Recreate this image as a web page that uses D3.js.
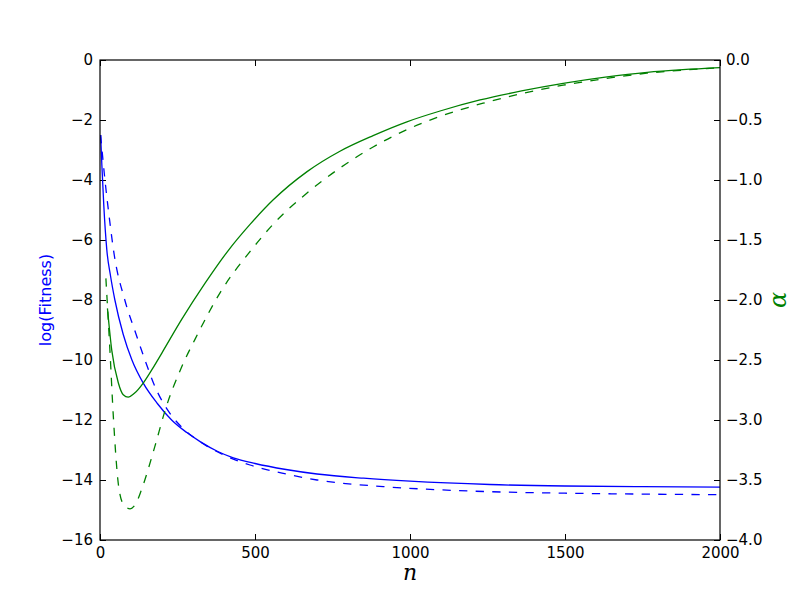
<!DOCTYPE html>
<html>
<head>
<meta charset="utf-8">
<script src="https://cdn.jsdelivr.net/npm/d3@7"></script>
<style>
  body { margin: 0; background: #fff; }
  svg { display: block; }
</style>
</head>
<body>
<div id="chart"></div>
<script>
var margin = { top: 60, right: 80, bottom: 60, left: 100 };
var svgWidth = 800;
var svgHeight = 600;
var width = svgWidth - margin.left - margin.right;
var height = svgHeight - margin.top - margin.bottom;

// log(Fitness), solid and dashed runs (left axis)
var fitSolidN = [2, 6, 12, 22, 34, 48, 75, 103, 140, 185, 231, 280, 323, 380, 430, 500, 600, 700, 850, 1000, 1258, 1500, 1750, 2000];
var fitSolidV = [-2.5, -3.5, -4.8, -6.33, -7.2, -8.0, -9.15, -10.0, -10.78, -11.45, -12.0, -12.42, -12.72, -13.05, -13.26, -13.45, -13.65, -13.8, -13.94, -14.04, -14.15, -14.2, -14.22, -14.24];
var fitDashN = [2, 16, 29, 46, 80, 115, 145, 180, 219, 260, 300, 345, 400, 484, 600, 700, 914, 1100, 1258, 1500, 1750, 2000];
var fitDashV = [-2.5, -4.0, -5.17, -6.5, -8.0, -9.1, -10.0, -10.95, -11.68, -12.2, -12.56, -12.87, -13.17, -13.5, -13.8, -14.0, -14.22, -14.33, -14.39, -14.44, -14.47, -14.49];

// alpha, solid and dashed runs (right axis)
var alphaSolidN = [24, 38, 59, 75, 91, 110, 140, 170, 200, 264, 339, 413, 484, 558, 668, 774, 881, 990, 1097, 1226, 1360, 1494, 1630, 1765, 1880, 2000];
var alphaSolidV = [-2.07, -2.42, -2.69, -2.79, -2.81, -2.78, -2.69, -2.57, -2.44, -2.16, -1.86, -1.59, -1.37, -1.167, -0.93, -0.76, -0.63, -0.515, -0.425, -0.333, -0.258, -0.195, -0.143, -0.103, -0.081, -0.064];
var alphaDashN = [19, 32, 43, 59, 75, 97, 115, 134, 177, 210, 263, 306, 392, 489, 558, 667, 774, 881, 990, 1097, 1236, 1494, 1630, 1764, 1880, 2000];
var alphaDashV = [-1.82, -2.42, -2.97, -3.53, -3.7, -3.74, -3.7, -3.58, -3.22, -2.92, -2.56, -2.33, -1.92, -1.58, -1.37, -1.11, -0.9, -0.725, -0.58, -0.47, -0.36, -0.21, -0.155, -0.11, -0.085, -0.064];

var xTicks = [0, 500, 1000, 1500, 2000];
var leftTicks = [0, -2, -4, -6, -8, -10, -12, -14, -16];
var rightTicks = [0, -0.5, -1, -1.5, -2, -2.5, -3, -3.5, -4];

function zipRun(ns, vs) {
  return ns.map((n, i) => ({ n: n, v: vs[i] }));
}

var minus = s => s.replace("-", "\u2212");

var svg = d3.select("#chart")
  .append("svg")
  .attr("width", svgWidth)
  .attr("height", svgHeight);

var chartGroup = svg.append("g")
  .attr("transform", `translate(${margin.left}, ${margin.top})`);

// scales
var xScale = d3.scaleLinear().domain([0, 2000]).range([0, width]);
var yLeft = d3.scaleLinear().domain([-16, 0]).range([height, 0]);
var yRight = d3.scaleLinear().domain([-4, 0]).range([height, 0]);

// axes, ticks pointing inward
var tickFont = "DejaVu Sans, sans-serif";

var bottomAxis = d3.axisBottom(xScale).tickValues(xTicks).tickSize(-6).tickPadding(7)
  .tickFormat(d => minus(String(d)));
var topAxis = d3.axisTop(xScale).tickValues(xTicks).tickSize(-6).tickFormat("");
var leftAxis = d3.axisLeft(yLeft).tickValues(leftTicks).tickSize(-6).tickPadding(7)
  .tickFormat(d => minus(String(d)));
var rightAxis = d3.axisRight(yRight).tickValues(rightTicks).tickSize(-6).tickPadding(6)
  .tickFormat(d => minus(d3.format(".1f")(d)));

function styleAxis(g) {
  g.select(".domain").remove();
  g.selectAll(".tick line").attr("stroke", "#000").attr("stroke-width", 1);
  g.selectAll(".tick text")
    .attr("fill", "#000")
    .attr("font-size", "15px")
    .attr("font-family", tickFont);
}

chartGroup.append("g").attr("transform", `translate(0, ${height})`).call(bottomAxis).call(styleAxis);
chartGroup.append("g").call(topAxis).call(styleAxis);
chartGroup.append("g").call(leftAxis).call(styleAxis);
chartGroup.append("g").attr("transform", `translate(${width}, 0)`).call(rightAxis).call(styleAxis);

// lines
var fitLine = d3.line()
  .x(d => xScale(d.n))
  .y(d => yLeft(d.v))
  .curve(d3.curveMonotoneX);

var alphaLine = d3.line()
  .x(d => xScale(d.n))
  .y(d => yRight(d.v))
  .curve(d3.curveMonotoneX);

var plotArea = chartGroup.append("g");

plotArea.append("path")
  .datum(zipRun(fitSolidN, fitSolidV))
  .attr("d", fitLine)
  .attr("fill", "none")
  .attr("stroke", "#0000ff")
  .attr("stroke-width", 1.3);

plotArea.append("path")
  .datum(zipRun(fitDashN, fitDashV))
  .attr("d", fitLine)
  .attr("fill", "none")
  .attr("stroke", "#0000ff")
  .attr("stroke-width", 1.3)
  .attr("stroke-dasharray", "8.3,8.3");

plotArea.append("path")
  .datum(zipRun(alphaSolidN, alphaSolidV))
  .attr("d", alphaLine)
  .attr("fill", "none")
  .attr("stroke", "#008000")
  .attr("stroke-width", 1.3);

plotArea.append("path")
  .datum(zipRun(alphaDashN, alphaDashV))
  .attr("d", alphaLine)
  .attr("fill", "none")
  .attr("stroke", "#008000")
  .attr("stroke-width", 1.3)
  .attr("stroke-dasharray", "8.3,8.3");

// frame
chartGroup.append("rect")
  .attr("x", 0)
  .attr("y", 0)
  .attr("width", width)
  .attr("height", height)
  .attr("fill", "none")
  .attr("stroke", "#000")
  .attr("stroke-width", 1.2);

// axis labels
svg.append("text")
  .attr("transform", `translate(51, ${margin.top + height / 2}) rotate(-90)`)
  .attr("text-anchor", "middle")
  .attr("font-size", "16px")
  .attr("font-family", tickFont)
  .attr("fill", "#0000ff")
  .text("log(Fitness)");

svg.append("text")
  .attr("transform", `translate(786, ${margin.top + height / 2}) rotate(-90)`)
  .attr("text-anchor", "middle")
  .attr("font-size", "24px")
  .attr("font-style", "italic")
  .attr("font-family", "DejaVu Serif, serif")
  .attr("fill", "#008000")
  .text("\u03b1");

svg.append("text")
  .attr("x", margin.left + width / 2)
  .attr("y", 580)
  .attr("text-anchor", "middle")
  .attr("font-size", "22px")
  .attr("font-style", "italic")
  .attr("font-family", "DejaVu Serif, serif")
  .attr("fill", "#000")
  .text("n");
</script>
</body>
</html>
